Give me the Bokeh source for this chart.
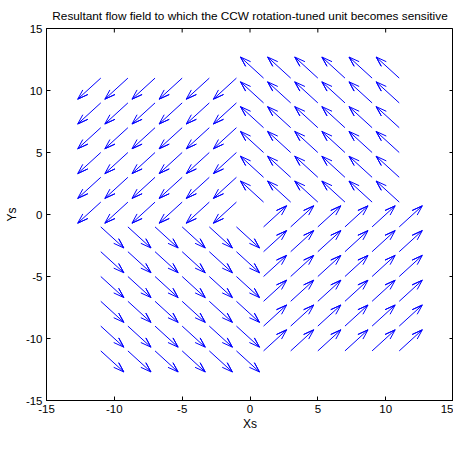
import math
from bokeh.plotting import figure
from bokeh.models import Range1d, FixedTicker, ColumnDataSource
from bokeh.embed import file_html
from bokeh.resources import INLINE

# ---- data ----
title_text = "Resultant flow field to which the CCW rotation-tuned unit becomes sensitive"
x_label = "Xs"
y_label = "Ys"
x_ticks = [-15, -10, -5, 0, 5, 10, 15]
y_ticks = [-15, -10, -5, 0, 5, 10, 15]
x_tick_labels = ["-15", "-10", "-5", "0", "5", "10", "15"]
y_tick_labels = ["-15", "-10", "-5", "0", "5", "10", "15"]
x_limits = [-15, 15]
y_limits = [-15, 15]

xs_left = [-11, -9, -7, -5, -3, -1]
xs_right = [1, 3, 5, 7, 9, 11]
ys_top = [11, 9, 7, 5, 3, 1]
ys_bottom = [-1, -3, -5, -7, -9, -11]

# displayed vector (u, v) per quadrant
vec_upper_left = [-1.7, -1.7]
vec_upper_right = [-1.7, 1.7]
vec_lower_right = [1.7, 1.7]
vec_lower_left = [1.7, -1.7]

quadrants = [
    (xs_left, ys_top, vec_upper_left),
    (xs_right, ys_top, vec_upper_right),
    (xs_right, ys_bottom, vec_lower_right),
    (xs_left, ys_bottom, vec_lower_left),
]

# MATLAB quiver arrow head proportions
alpha = 0.33
beta = 0.33

path_xs, path_ys = [], []
for qx, qy, (u, v) in quadrants:
    for y in qy:
        for x in qx:
            tx, ty = x + u, y + v
            b1x = tx - alpha * (u + beta * v)
            b1y = ty - alpha * (v - beta * u)
            b2x = tx - alpha * (u - beta * v)
            b2y = ty - alpha * (v + beta * u)
            path_xs.append([x, tx, b1x, tx, b2x])
            path_ys.append([y, ty, b1y, ty, b2y])

arrow_src = ColumnDataSource(dict(xs=path_xs, ys=path_ys))

FONT = "Liberation Sans"
TICK_FS = "11.5px"
LABEL_FS = "12px"
TITLE_FS = "11.8px"

p = figure(width=453, height=433, output_backend="svg", toolbar_location=None,
           x_range=Range1d(*x_limits), y_range=Range1d(*y_limits),
           min_border_left=46, min_border_right=0, min_border_top=28, min_border_bottom=28)
p.title.text = title_text
p.title.align = "center"
p.title.text_font = FONT
p.title.text_font_size = TITLE_FS
p.title.text_font_style = "normal"
p.title.text_color = "black"
p.title.standoff = 12

p.xgrid.visible = False
p.ygrid.visible = False
p.background_fill_color = "white"
p.border_fill_color = "white"
p.outline_line_color = "black"
p.outline_line_width = 1

for ax, ticks, labels, lab in ((p.xaxis[0], x_ticks, x_tick_labels, x_label),
                               (p.yaxis[0], y_ticks, y_tick_labels, y_label)):
    ax.ticker = FixedTicker(ticks=ticks)
    ax.major_label_overrides = dict(zip(ticks, labels))
    ax.axis_label = lab
    ax.axis_label_text_font = FONT
    ax.axis_label_text_font_size = LABEL_FS
    ax.axis_label_text_font_style = "normal"
    ax.axis_label_text_color = "black"
    ax.major_label_text_font = FONT
    ax.major_label_text_font_size = TICK_FS
    ax.major_label_text_color = "black"
    ax.major_tick_in = 4
    ax.major_tick_out = 0
    ax.minor_tick_line_color = None
    ax.axis_line_color = "black"
    ax.major_tick_line_color = "black"
p.xaxis[0].major_label_standoff = 4
p.xaxis[0].axis_label_standoff = 1
p.yaxis[0].major_label_standoff = 4
p.yaxis[0].axis_label_standoff = 4

# inward ticks on the top and right edges of the box (clipped to the frame)
p.scatter(x=x_ticks, y=[y_limits[1]] * len(x_ticks), marker="dash", size=8,
          angle=math.pi / 2, line_color="black", line_width=1)
p.scatter(x=[x_limits[1]] * len(y_ticks), y=y_ticks, marker="dash", size=8,
          line_color="black", line_width=1)

p.multi_line(xs="xs", ys="ys", source=arrow_src, line_color="#0000FF", line_width=1)

open("out.html", "w").write(file_html(p, INLINE))
